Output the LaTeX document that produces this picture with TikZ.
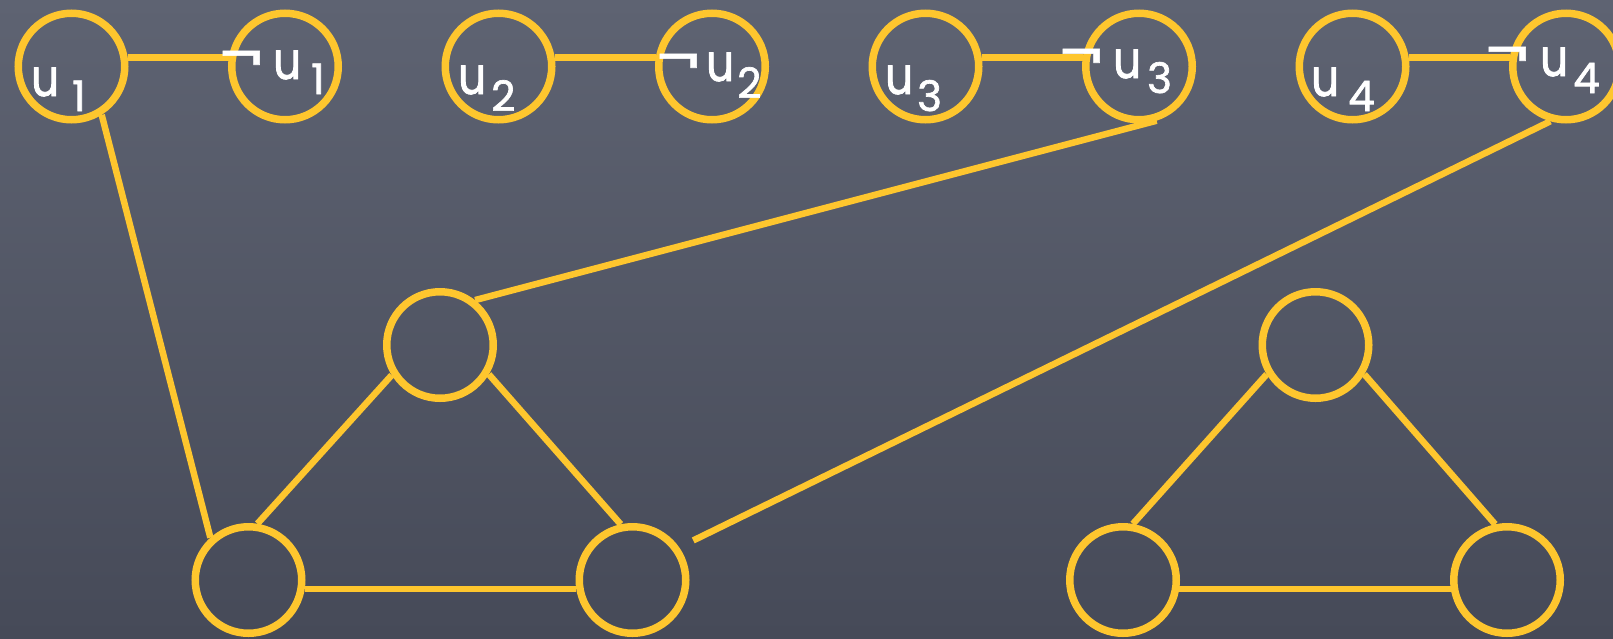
\documentclass[tikz,border=0pt]{standalone}
\usepackage{fontspec}
\newfontfamily\ufont[FakeStretch=0.84,FakeBold=1.6]{Poppins}
\newfontfamily\dfont[FakeBold=1.6]{Poppins}
\newfontfamily\nfont[FakeBold=1.0]{Poppins}
\definecolor{chalky}{RGB}{254,198,46}
\definecolor{slatetop}{RGB}{94,99,114}
\definecolor{slatebot}{RGB}{70,74,88}
\newcommand{\uglyph}{{\ufont\fontsize{52}{52}\selectfont u}}
\newcommand{\dglyph}[1]{{\dfont\fontsize{42}{42}\selectfont #1}}
\newcommand{\nglyph}{{\nfont\fontsize{65}{65}\selectfont ¬}}
\newcommand{\ulab}[3]{\makebox[#1][l]{\uglyph}\raisebox{-#2}{\dglyph{#3}}}
\newcommand{\nlab}[5]{\raisebox{#5}{\makebox[#1][l]{\nglyph}}\ulab{#2}{#3}{#4}}
\tikzset{
  vtx/.style={circle, draw=chalky, line width=7.5pt, minimum size=106.5pt, inner sep=0pt},
  link/.style={draw=chalky, line width=6.5pt},
  lbl/.style={text=white, inner sep=0pt, anchor=base west},
}
\begin{document}
\begin{tikzpicture}[x=1pt,y=-1pt]
\useasboundingbox (0,0) rectangle (1613,638);
\clip (0,0) rectangle (1613,638);
\shade[top color=slatetop, bottom color=slatebot] (0,0) rectangle (1613,638);

% top row
\node[vtx] (u1) at (71.5,66.5) {};
\node[vtx] (n1) at (285,66.5) {};
\node[vtx] (u2) at (498.5,66.5) {};
\node[vtx] (n2) at (712,66.5) {};
\node[vtx] (u3) at (925.5,66.5) {};
\node[vtx] (n3) at (1139,66.5) {};
\node[vtx] (u4) at (1352.5,66.5) {};
\node[vtx] (n4) at (1566,66.5) {};

% triangles
\node[vtx] (TL) at (440,345) {};
\node[vtx] (BL1) at (248.5,580) {};
\node[vtx] (BR1) at (632.5,580) {};
\node[vtx] (TR) at (1315.5,345) {};
\node[vtx] (BL2) at (1123,580) {};
\node[vtx] (BR2) at (1507,580) {};

% edges
\draw[link] (u1.9) -- (n1.171);
\draw[link] (u2.9) -- (n2.171);
\draw[link] (u3.9) -- (n3.171);
\draw[link] (u4.9) -- (n4.171);
\draw[link] (u1.-58.9) -- (BL1.132);
\draw[link] (n3.-72) -- (TL.52);
\draw[link, shorten >=15.7pt] (n4.-106.6) -- (BR1.35.5);
\draw[link] (TL.-148) -- (BL1.81.5);
\draw[link] (TL.-31) -- (BR1.102);
\draw[link] (BL1.-9) -- (BR1.-171);
\draw[link] (TR.-149) -- (BL2.80);
\draw[link] (TR.-31) -- (BR2.102);
\draw[link] (BL2.-9) -- (BR2.-171);

% labels
\node[lbl] (lu1) at (31,96) {\ulab{41pt}{15pt}{1}};
\node[lbl] (lu2) at (458,94) {\ulab{33pt}{17pt}{2}};
\node[lbl] (lu3) at (885,94) {\ulab{32pt}{17pt}{3}};
\node[lbl] (lu4) at (1311,96) {\ulab{37pt}{15pt}{4}};
\node[lbl] (ln1) at (220,79) {\nlab{53pt}{38pt}{15pt}{1}{0pt}};
\node[lbl] (ln2) at (657,81) {\nlab{49pt}{31pt}{17pt}{2}{-1pt}};
\node[lbl] (ln3) at (1060,78) {\nlab{53pt}{34pt}{15pt}{3}{1pt}};
\node[lbl] (ln4) at (1486,76) {\nlab{54pt}{33pt}{17pt}{4}{1pt}};
\end{tikzpicture}
\end{document}
